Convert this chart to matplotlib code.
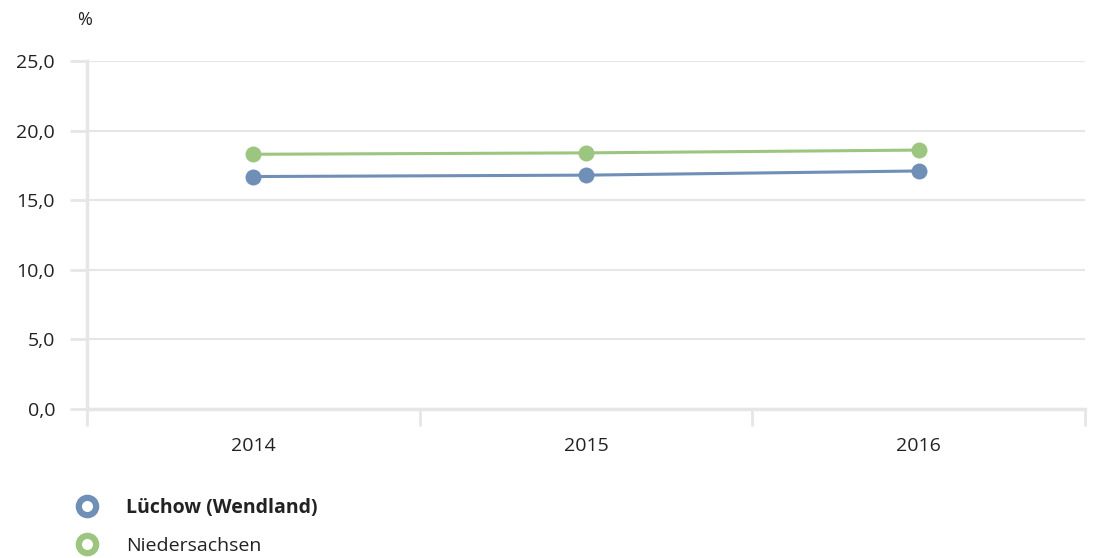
import matplotlib.pyplot as plt
from matplotlib.lines import Line2D
from matplotlib.ticker import FuncFormatter

plt.rcParams['font.family'] = ['Open Sans', 'DejaVu Sans']

# Data
years = ['2014', '2015', '2016']
luechow = [16.7, 16.8, 17.1]
niedersachsen = [18.3, 18.4, 18.6]

series_names = ['Lüchow (Wendland)', 'Niedersachsen']
series_colors = ['#6f8fb7', '#9cc57f']

GRID = '#e6e6e6'
TEXT = '#222222'
FS = 14

fig = plt.figure(figsize=(10.94, 5.58), dpi=100)
ax = fig.add_axes([87 / 1094, 1 - 409 / 558, (1085 - 87) / 1094, (409 - 61) / 558])

x = range(len(years))
for vals, col in zip([luechow, niedersachsen], series_colors):
    ax.plot(x, vals, color=col, linewidth=2.2, marker='o', markersize=11.5,
            markeredgewidth=0, zorder=3, clip_on=False)

ax.set_xlim(-0.5, len(years) - 0.5)
ax.set_ylim(0, 25)
ax.set_yticks([0, 5, 10, 15, 20, 25])
ax.yaxis.set_major_formatter(FuncFormatter(lambda v, p: f'{v:.1f}'.replace('.', ',')))

# category boundaries get the tick marks, labels sit in the middle
ax.set_xticks([i - 0.5 for i in range(len(years) + 1)])
ax.set_xticklabels([])
ax.set_xticks(list(x), minor=True)
ax.set_xticklabels(years, minor=True)
ax.tick_params(axis='x', which='major', length=12, width=2, color=GRID)
ax.tick_params(axis='x', which='minor', length=0, pad=20, labelsize=FS, labelcolor=TEXT)
ax.tick_params(axis='y', length=12, width=2, color=GRID, pad=11, labelsize=FS, labelcolor=TEXT)

ax.grid(axis='y', color=GRID, linewidth=1.5)
ax.set_axisbelow(True)
for s in ['top', 'right']:
    ax.spines[s].set_visible(False)
for s in ['left', 'bottom']:
    ax.spines[s].set_color(GRID)
    ax.spines[s].set_linewidth(2.5)

fig.text(77 / 1094, 1 - 20 / 558, '%', fontsize=13, color=TEXT, va='center')

handles = [Line2D([], [], linestyle='none', marker='o', markersize=12.5,
                  markerfacecolor='white', markeredgecolor=c, markeredgewidth=4.5)
           for c in series_colors]
leg = fig.legend(handles, series_names, loc='upper left',
                 bbox_to_anchor=(65 / 1094, 1 - 490 / 558), frameon=False,
                 fontsize=FS, labelspacing=1.0, handletextpad=1.25,
                 handlelength=1.5, labelcolor=TEXT, borderaxespad=0)
leg.get_texts()[0].set_fontweight('bold')

fig.savefig('out.png', dpi=100)
